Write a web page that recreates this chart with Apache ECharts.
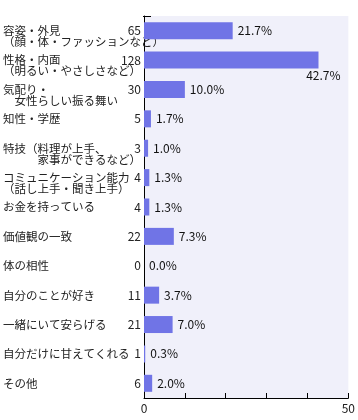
<!DOCTYPE html>
<html>
<head>
<meta charset="utf-8">
<script src="https://cdn.jsdelivr.net/npm/echarts@6/dist/echarts.min.js"></script>
<style>html,body{margin:0;padding:0;background:#fff;}#c{width:358px;height:420px;}</style>
</head>
<body>
<div id="c"></div>
<script>
var categories = [
  "容姿・外見\n（顔・体・ファッションなど）",
  "性格・内面\n（明るい・やさしさなど）",
  "気配り・\n　女性らしい振る舞い",
  "知性・学歴",
  "特技（料理が上手、\n　　　家事ができるなど）",
  "コミュニケーション能力\n（話し上手・聞き上手）",
  "お金を持っている",
  "価値観の一致",
  "体の相性",
  "自分のことが好き",
  "一緒にいて安らげる",
  "自分だけに甘えてくれる",
  "その他"
];
var counts = [65, 128, 30, 5, 3, 4, 4, 22, 0, 11, 21, 1, 6];
var percents = [21.7, 42.7, 10.0, 1.7, 1.0, 1.3, 1.3, 7.3, 0.0, 3.7, 7.0, 0.3, 2.0];
var xTicks = [0, 50];

var FONT = '"Noto Sans CJK JP", "Noto Sans", sans-serif';
var chart = echarts.init(document.getElementById('c'), null, {renderer: 'canvas'});

var seriesData = percents.map(function (v) {
  if (v > 40) {
    return {
      value: v,
      label: {position: ['100%', '100%'], offset: [22, 7], align: 'right', verticalAlign: 'middle'}
    };
  }
  return v;
});

chart.setOption({
  animation: false,
  grid: {left: 143, right: 5, top: 16, bottom: 22, show: true, backgroundColor: '#f0f0fa', borderWidth: 0},
  xAxis: {
    type: 'value', min: 0, max: 50, interval: 10,
    axisLine: {show: true, lineStyle: {color: '#000', width: 1}},
    axisTick: {show: true, inside: true, length: 5, lineStyle: {color: '#000'}},
    splitLine: {show: false},
    axisLabel: {
      color: '#222', fontSize: 12, fontFamily: FONT, margin: 4,
      formatter: function (v) { return xTicks.indexOf(v) >= 0 ? String(v) : ''; }
    }
  },
  yAxis: [
    {
      type: 'category', data: categories, inverse: true,
      axisLine: {show: true, lineStyle: {color: '#000', width: 1}},
      axisTick: {show: false},
      axisLabel: {
        interval: 0, hideOverlap: false,
        align: 'left', margin: 141, color: '#222', fontFamily: FONT,
        formatter: function (v) {
          var lines = v.split('\n');
          var out = lines.map(function (s) { return '{a|' + s + '}'; });
          if (lines.length > 1) out.unshift('{a|　}');
          return out.join('\n');
        },
        rich: {a: {fontSize: 11.5, lineHeight: 11, color: '#222', fontFamily: FONT}}
      }
    },
    {
      type: 'category', data: counts.map(String), inverse: true, position: 'left',
      axisLine: {show: false}, axisTick: {show: false},
      axisLabel: {interval: 0, hideOverlap: false, margin: 3, color: '#222', fontSize: 12, fontFamily: FONT}
    }
  ],
  graphic: [{
    type: 'line', shape: {x1: 143, y1: 16.5, x2: 151, y2: 16.5},
    style: {stroke: '#000', lineWidth: 1}
  }],
  series: [{
    type: 'bar', yAxisIndex: 0, data: seriesData, barWidth: 17,
    itemStyle: {color: '#7074e6'},
    label: {
      show: true, position: 'right', distance: 5, color: '#111', fontSize: 12, fontFamily: FONT,
      formatter: function (p) { return p.value.toFixed(1) + '%'; }
    }
  }]
});
</script>
</body>
</html>
